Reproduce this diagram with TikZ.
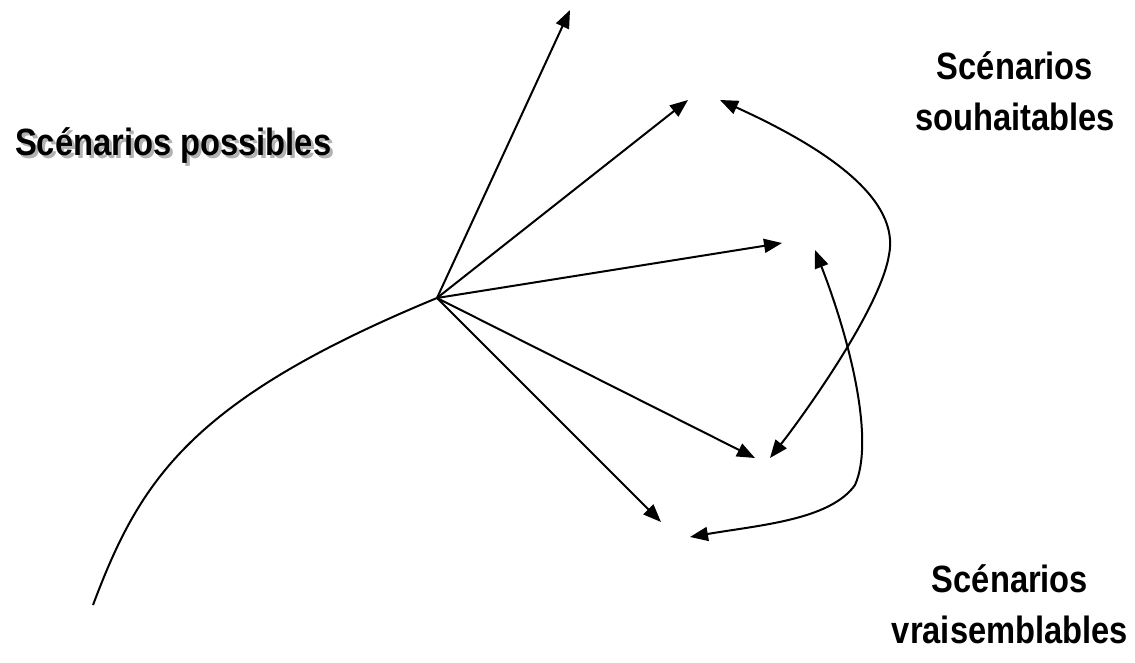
\documentclass[tikz,border=0pt]{standalone}
\usepackage{fontspec}
\setmainfont{Liberation Sans}[FakeStretch=0.86]
\usetikzlibrary{arrows.meta}
\begin{document}
\begin{tikzpicture}[x=1pt,y=-1pt,
  ln/.style={line width=2pt},
  arr/.style={ln,-{Triangle[length=18pt,width=14pt]}},
  darr/.style={ln,{Triangle[length=18pt,width=14pt]}-{Triangle[length=18pt,width=14pt]}},
  lbl/.style={font=\bfseries\fontsize{38}{51}\selectfont,align=center,inner sep=0pt}]
\useasboundingbox (0,0) rectangle (1135,663);
\coordinate (hub) at (437,298);
\coordinate (start) at (93,605);
\coordinate (e1) at (570,10);
\coordinate (e2) at (688,100);
\coordinate (e3) at (782,243);
\coordinate (e4) at (755,458);
\coordinate (e5) at (661,522);
\coordinate (a1) at (720,100);
\coordinate (a2) at (770,458);
\coordinate (b1) at (815,250);
\coordinate (b2) at (690,537);
\draw[ln] (start) .. controls (140,480) and (190,400) .. (hub);
\draw[arr] (hub) -- (e1);
\draw[arr] (hub) -- (e2);
\draw[arr] (hub) -- (e3);
\draw[arr] (hub) -- (e4);
\draw[arr] (hub) -- (e5);
\draw[darr] (a1) .. controls (830,150) and (900,200) .. (889,255) .. controls (880,310) and (800,420) .. (a2);
\draw[darr] (b1) .. controls (850,340) and (875,440) .. (855,485) .. controls (830,520) and (760,525) .. (b2);
\node[lbl,text=black!30,anchor=west] (poss-sh) at (18,149) {Scénarios possibles};
\node[lbl,anchor=west] (poss) at (15,146) {Scénarios possibles};
\node[lbl] (souh) at (1015,91) {Scénarios\\souhaitables};
\node[lbl] (vrai) at (1010,604) {Scénarios\\vraisemblables};
\end{tikzpicture}
\end{document}
